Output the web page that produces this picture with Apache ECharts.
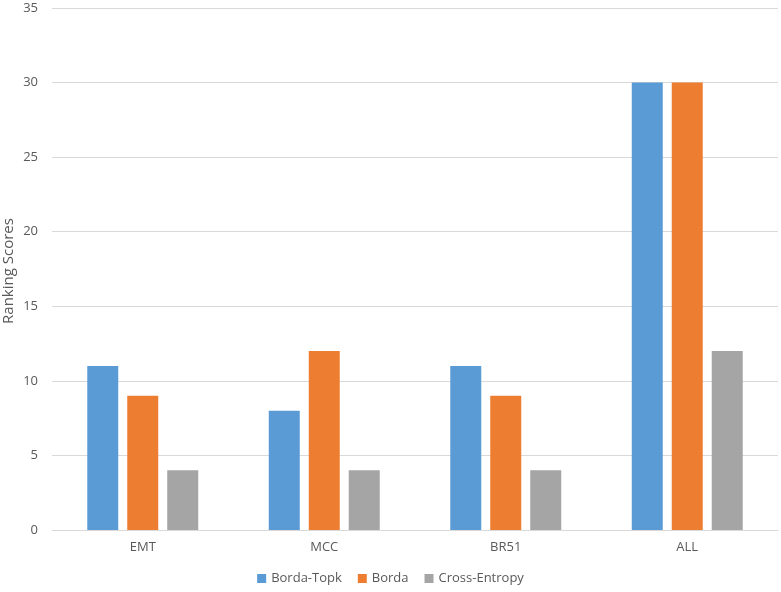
<!DOCTYPE html>
<html><head><meta charset="utf-8">
<script src="https://cdn.jsdelivr.net/npm/echarts@6/dist/echarts.min.js"></script>
<style>html,body{margin:0;padding:0;background:#fff}#c{width:781px;height:592px}</style>
</head><body><div id="c"></div>
<script>
const categories = ['EMT', 'MCC', 'BR51', 'ALL'];
const bordaTopk = [11, 8, 11, 30];
const borda = [9, 12, 9, 30];
const crossEntropy = [4, 4, 4, 12];
const seriesNames = ['Borda-Topk', 'Borda', 'Cross-Entropy'];
const yAxisTitle = 'Ranking Scores';
const colors = ['#5B9BD5', '#ED7D31', '#A5A5A5'];
const font = '"Open Sans", "Noto Sans", sans-serif';
const chart = echarts.init(document.getElementById('c'));
const mk = (name, data, i) => ({
  name, type: 'bar', data, barWidth: 31, barGap: '29%',
  itemStyle: { color: colors[i] }
});
chart.setOption({
  animation: false,
  textStyle: { fontFamily: font },
  color: colors,
  grid: { left: 52, right: 3, top: 8, bottom: 62, containLabel: false, outerBoundsMode: 'none' },
  legend: {
    bottom: 2, itemWidth: 9, itemHeight: 9, itemGap: 16, icon: 'rect',
    textStyle: { color: '#595959', fontSize: 13, fontFamily: font },
    data: seriesNames
  },
  graphic: [{
    type: 'text', x: 9, y: 271, rotation: Math.PI / 2,
    style: { text: yAxisTitle, fill: '#595959', font: '15px ' + font, align: 'center', verticalAlign: 'middle' }
  }],
  xAxis: {
    type: 'category', data: categories,
    axisLine: { lineStyle: { color: '#d9d9d9' } },
    axisTick: { show: false },
    axisLabel: { color: '#595959', fontSize: 13, margin: 11, fontFamily: font }
  },
  yAxis: {
    type: 'value', min: 0, max: 35, interval: 5,
    axisLine: { show: false }, axisTick: { show: false },
    axisLabel: { color: '#595959', fontSize: 13, margin: 14, fontFamily: font },
    splitLine: { lineStyle: { color: '#d9d9d9' } }
  },
  series: [mk(seriesNames[0], bordaTopk, 0), mk(seriesNames[1], borda, 1), mk(seriesNames[2], crossEntropy, 2)]
});
</script></body></html>
